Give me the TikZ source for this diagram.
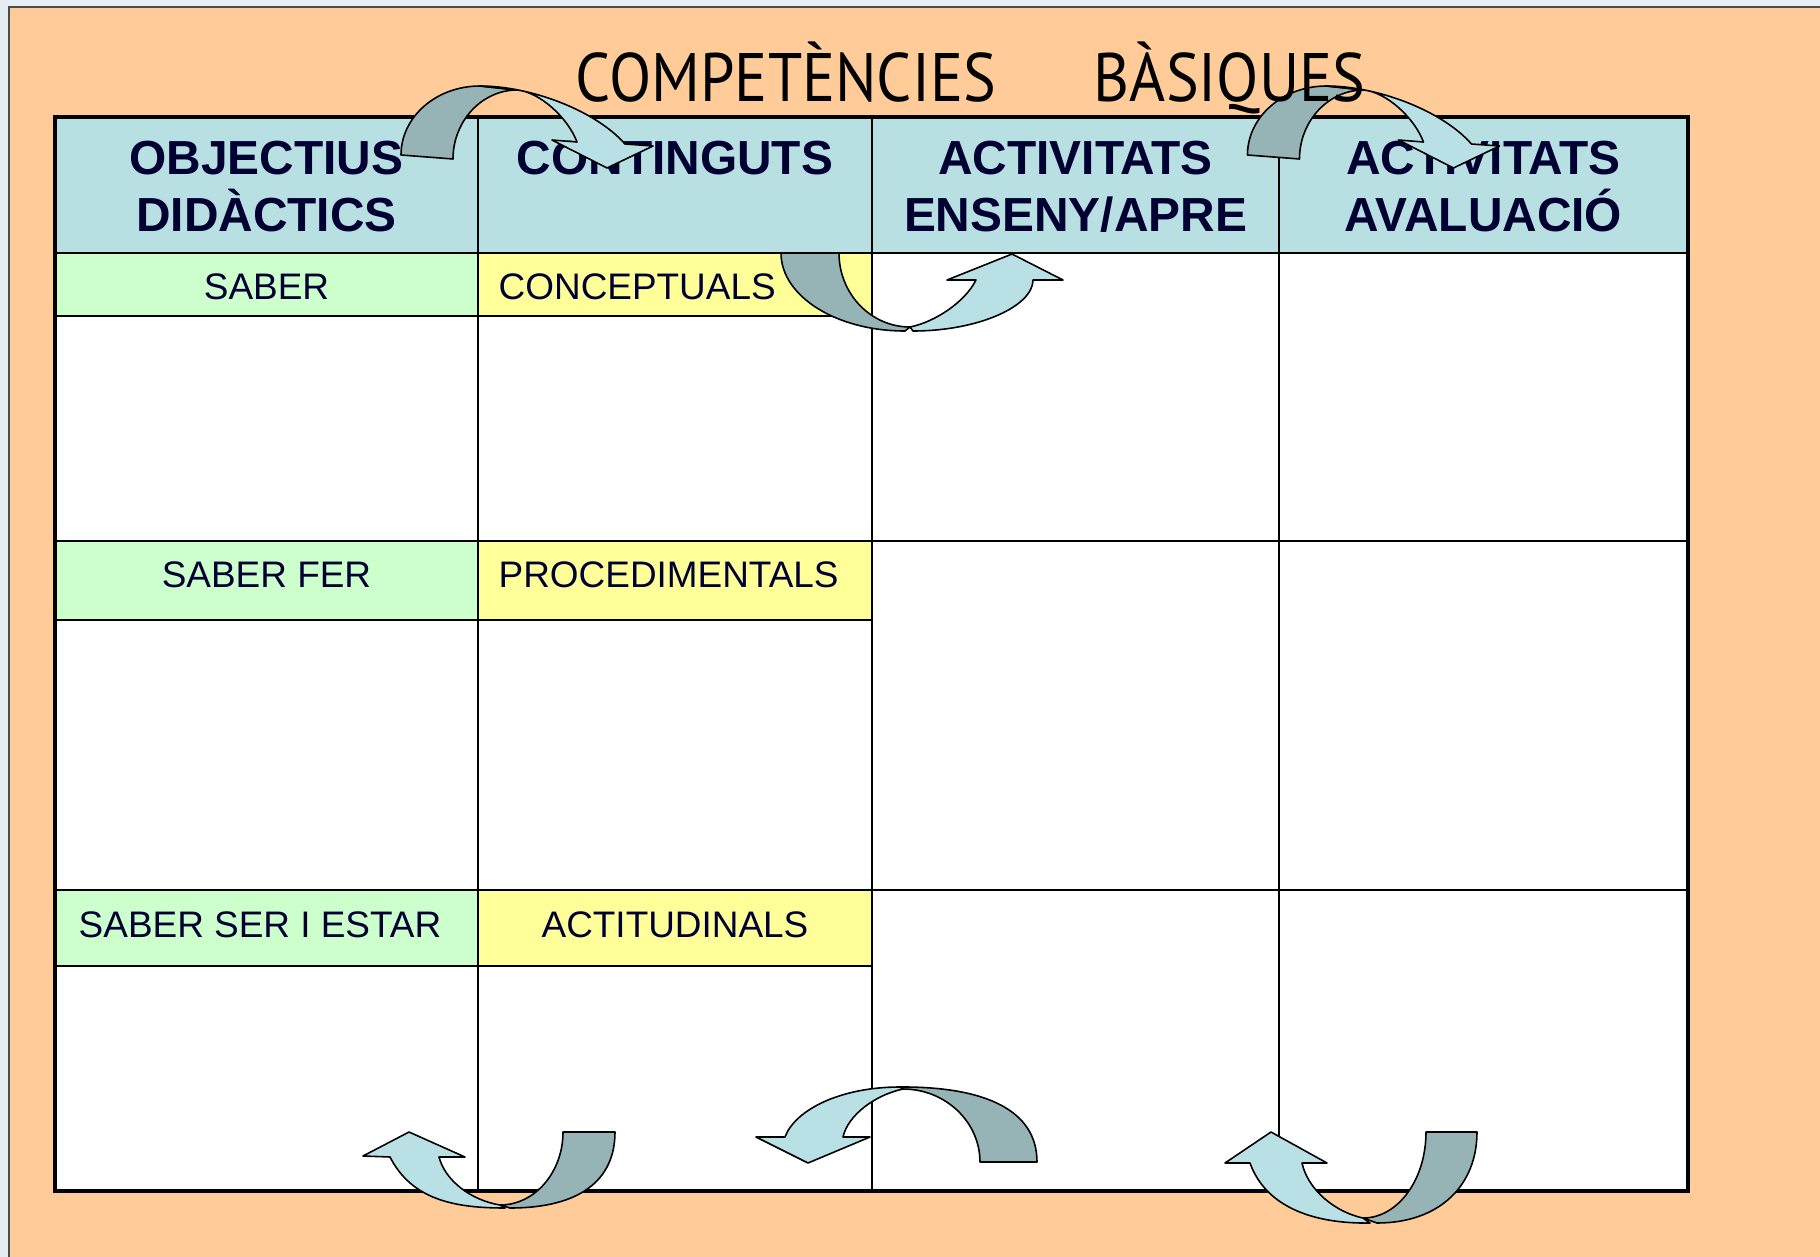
\documentclass[tikz,border=0pt]{standalone}
\usepackage{fontspec}
\setmainfont{Liberation Sans}
\newfontfamily\titlefont[FakeStretch=0.9]{PT Sans}
\usepackage{xcolor}
\usepackage{tikz}

\definecolor{panel}{RGB}{255,204,153}
\definecolor{sky}{RGB}{228,238,243}
\definecolor{headblue}{RGB}{184,223,226}
\definecolor{sabergreen}{RGB}{204,255,204}
\definecolor{contyellow}{RGB}{255,255,153}
\definecolor{riblight}{RGB}{185,224,228}
\definecolor{ribdark}{RGB}{150,179,182}
\definecolor{navy}{RGB}{0,0,51}

\tikzstyle{tablerule} = [line width=0.6pt]
\tikzstyle{tableframe} = [line width=1.4pt]
\tikzstyle{head} = [inner sep=0pt,anchor=north,align=center,text=navy,font=\fontsize{13.6}{16.2}\selectfont\bfseries]
\tikzstyle{cell} = [inner sep=0pt,anchor=base,text=navy,font=\fontsize{10.5}{12.6}\selectfont]
\tikzstyle{ribfront} = [fill=riblight,draw=black,line width=0.45pt,line join=round]
\tikzstyle{ribback} = [fill=ribdark,draw=black,line width=0.45pt,line join=round]

\begin{document}
\begin{tikzpicture}[x=0.01cm,y=-0.01cm]
                \useasboundingbox (0,0) rectangle (1820,1257);
                \fill [sky] (0,0) rectangle (1820,1257);
                \fill [panel] (9,7) rectangle (1820,1257);
                \draw [line width=0.4pt,color=black!70] (9,1257) -- (9,7) -- (1820,7);
                % table cells
                \fill [white] (55,117) rectangle (1688,1191);
                \fill [headblue] (55,117) rectangle (1688,253);
                \fill [sabergreen] (55,253) rectangle (478,316);
                \fill [sabergreen] (55,541) rectangle (478,620);
                \fill [sabergreen] (55,890) rectangle (478,966);
                \fill [contyellow] (478,253) rectangle (872,316);
                \fill [contyellow] (478,541) rectangle (872,620);
                \fill [contyellow] (478,890) rectangle (872,966);
                \draw [tablerule] (55,253) -- (1688,253);
                \draw [tablerule] (55,541) -- (1688,541);
                \draw [tablerule] (55,890) -- (1688,890);
                \draw [tablerule] (55,316) -- (872,316);
                \draw [tablerule] (55,620) -- (872,620);
                \draw [tablerule] (55,966) -- (872,966);
                \draw [tablerule] (478,117) -- (478,1191);
                \draw [tablerule] (872,117) -- (872,1191);
                \draw [tablerule] (1279,117) -- (1279,1191);
                \draw [tableframe] (55,117) rectangle (1688,1191);
                % headers
                \node [head] (objectius) at (266.5,140) {OBJECTIUS\\DIDÀCTICS};
                \node [head] (continguts) at (675,140) {CONTINGUTS};
                \node [head] (ensenyament) at (1075.5,140) {ACTIVITATS\\ENSENY/APRE};
                \node [head] (avaluacio) at (1483.5,140) {ACTIVITATS\\AVALUACIÓ};
                % rows
                \node [cell] (saber) at (266.5,299) {SABER};
                \node [cell] (saberfer) at (266.5,587) {SABER FER};
                \node [cell] (saberser) at (260,937) {SABER SER I ESTAR};
                \node [cell,anchor=base west] (conceptuals) at (498,299) {CONCEPTUALS};
                \node [cell,anchor=base west] (procedimentals) at (498,587) {PROCEDIMENTALS};
                \node [cell] (actitudinals) at (675,937) {ACTITUDINALS};
                % ribbon arrows, top
                \filldraw [ribback] (401,155) .. controls (401,117) and (436,86) .. (480,86) -- (517,90)
                    .. controls (482,90) and (453,121) .. (453,159) -- cycle;
                \filldraw [ribfront] (480,86) .. controls (530,86) and (595,110) .. (625,144) -- (653,146) -- (607,168)
                    -- (552,140) -- (577,142) .. controls (568,118) and (540,92) .. (517,90) -- cycle;
                \begin{scope}[xshift=8.46cm]
                \filldraw [ribback] (401,155) .. controls (401,117) and (436,86) .. (480,86) -- (517,90)
                    .. controls (482,90) and (453,121) .. (453,159) -- cycle;
                \filldraw [ribfront] (480,86) .. controls (530,86) and (595,110) .. (625,144) -- (653,146) -- (607,168)
                    -- (552,140) -- (577,142) .. controls (568,118) and (540,92) .. (517,90) -- cycle;
                \end{scope}
                % conceptuals to activitats
                \filldraw [ribback] (781,253) .. controls (781,296) and (836,331) .. (905,331) -- (910,327)
                    .. controls (871,327) and (839,294) .. (839,253) -- cycle;
                \filldraw [ribfront] (910,327) .. controls (935,322) and (965,302) .. (976,280) -- (947,280) -- (1012,254)
                    -- (1063,280) -- (1033,280) .. controls (1033,306) and (979,331) .. (913,331) -- cycle;
                % ribbon arrows, bottom
                \filldraw [ribback] (563,1132) .. controls (563,1172) and (535,1205) .. (500,1205) -- (510,1208)
                    .. controls (580,1208) and (615,1180) .. (615,1132) -- cycle;
                \filldraw [ribfront] (505,1208) .. controls (455,1208) and (412,1200) .. (390,1157) -- (363,1156) -- (409,1132)
                    -- (465,1157) -- (439,1157) .. controls (445,1180) and (470,1200) .. (500,1205) -- cycle;
                \filldraw [ribback] (980,1162) .. controls (980,1122) and (945.5,1089) .. (903,1089) -- (897,1087)
                    .. controls (985,1086) and (1037,1110) .. (1037,1162) -- cycle;
                \filldraw [ribfront] (900,1087) .. controls (840,1087) and (795,1110) .. (785,1137) -- (756,1137) -- (808,1163)
                    -- (870,1137) -- (843,1137) .. controls (848,1115) and (875,1095) .. (903,1089) -- cycle;
                \filldraw [ribback] (1426,1132) .. controls (1426,1179.5) and (1398,1218) .. (1363,1218) -- (1377,1223)
                    .. controls (1440,1223) and (1477,1185) .. (1477,1132) -- cycle;
                \filldraw [ribfront] (1370,1223) .. controls (1310,1224) and (1265,1205) .. (1250,1163) -- (1225,1163) -- (1271,1132)
                    -- (1327,1163) -- (1302,1163) .. controls (1308,1190) and (1335,1212) .. (1363,1218) -- cycle;
                % title
                \node [anchor=base west,inner sep=0pt,font=\titlefont\fontsize{19.5}{22}\selectfont] (title) at (575,101) {COMPETÈNCIES\hspace{27.9pt}BÀSIQUES};
\end{tikzpicture}
\end{document}
